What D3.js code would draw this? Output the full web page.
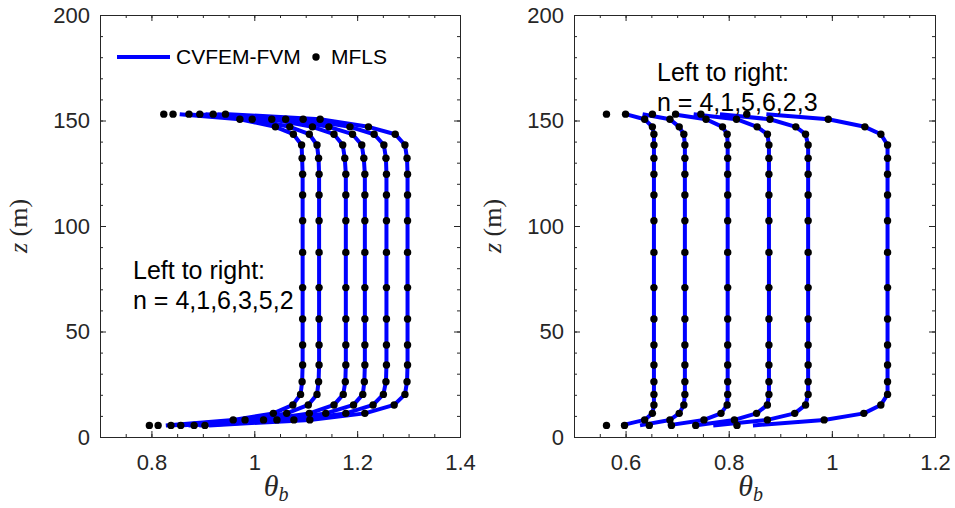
<!DOCTYPE html>
<html>
<head>
<meta charset="utf-8">
<script src="https://cdn.jsdelivr.net/npm/d3@7"></script>
<style>
	body { margin: 0; background: #fff; }
	svg { display: block; }
	.axis path, .axis line { stroke: #262626; stroke-width: 1; }
	.axis text { fill: #262626; font-size: 22px; font-family: "Liberation Sans", Arial, sans-serif; }
	.note { fill: #000; font-size: 21px; font-family: "Liberation Sans", Arial, sans-serif; }
	.label { fill: #262626; font-family: "Liberation Serif", "Times New Roman", serif; }
</style>
</head>
<body>
<svg id="chart" width="955" height="508"></svg>
<script>
// heights of the MFLS points (m), bottom to top
var zLevels = [5.5, 8.1, 11.2, 15.2, 20.2, 26.2, 34.1, 43.6, 55.9, 70.8, 87.5, 102.5, 114.7, 124.5, 132.1, 138.4, 143.5, 147.0, 150.6, 153.0];

// left panel, theta_b at zLevels, left to right n = 4,1,6,3,5,2
var leftN4 = [0.796, 0.959, 1.037, 1.075, 1.090, 1.093, 1.094, 1.094, 1.094, 1.094, 1.094, 1.094, 1.094, 1.094, 1.093, 1.092, 1.076, 1.041, 0.972, 0.824];
var leftN1 = [0.813, 0.982, 1.063, 1.105, 1.122, 1.125, 1.126, 1.126, 1.126, 1.126, 1.126, 1.126, 1.126, 1.126, 1.125, 1.122, 1.107, 1.069, 0.996, 0.842];
var leftN6 = [0.838, 1.018, 1.107, 1.155, 1.173, 1.177, 1.178, 1.178, 1.178, 1.178, 1.178, 1.178, 1.178, 1.178, 1.176, 1.172, 1.155, 1.113, 1.034, 0.873];
var leftN3 = [0.857, 1.044, 1.139, 1.193, 1.211, 1.214, 1.215, 1.215, 1.215, 1.215, 1.215, 1.215, 1.215, 1.215, 1.213, 1.209, 1.191, 1.145, 1.061, 0.894];
var leftN5 = [0.883, 1.077, 1.178, 1.231, 1.251, 1.256, 1.257, 1.257, 1.257, 1.257, 1.257, 1.257, 1.257, 1.257, 1.256, 1.252, 1.233, 1.186, 1.095, 0.920];
var leftN2 = [0.904, 1.108, 1.215, 1.272, 1.293, 1.297, 1.298, 1.298, 1.298, 1.298, 1.298, 1.298, 1.298, 1.298, 1.297, 1.293, 1.274, 1.222, 1.128, 0.944];
// CVFEM-FVM end values (bottom / top) for the same curves
var leftLineBottom = [0.828, 0.838, 0.855, 0.872, 0.893, 0.912];
var leftLineTop    = [0.855, 0.868, 0.888, 0.905, 0.928, 0.950];

// right panel, left to right n = 4,1,5,6,2,3
var rightN4 = [0.563, 0.637, 0.652, 0.655, 0.655, 0.655, 0.655, 0.655, 0.655, 0.655, 0.655, 0.655, 0.655, 0.655, 0.655, 0.655, 0.655, 0.652, 0.637, 0.563];
var rightN1 = [0.598, 0.686, 0.704, 0.713, 0.715, 0.715, 0.715, 0.715, 0.715, 0.715, 0.715, 0.715, 0.715, 0.715, 0.715, 0.715, 0.713, 0.704, 0.686, 0.600];
var rightN5 = [0.646, 0.752, 0.785, 0.797, 0.798, 0.798, 0.798, 0.798, 0.798, 0.798, 0.798, 0.798, 0.798, 0.798, 0.798, 0.798, 0.797, 0.788, 0.756, 0.652];
var rightN6 = [0.689, 0.811, 0.854, 0.875, 0.878, 0.878, 0.878, 0.878, 0.878, 0.878, 0.878, 0.878, 0.878, 0.878, 0.878, 0.878, 0.875, 0.855, 0.815, 0.697];
var rightN2 = [0.736, 0.875, 0.928, 0.949, 0.954, 0.954, 0.954, 0.954, 0.954, 0.954, 0.954, 0.954, 0.954, 0.954, 0.954, 0.954, 0.949, 0.930, 0.880, 0.746];
var rightN3 = [0.816, 0.985, 1.062, 1.095, 1.108, 1.108, 1.108, 1.108, 1.108, 1.108, 1.108, 1.108, 1.108, 1.108, 1.108, 1.108, 1.095, 1.064, 0.993, 0.835];
var rightLineBottom = [0.592, 0.628, 0.682, 0.734, 0.770, 0.847];
var rightLineTop    = [0.600, 0.633, 0.692, 0.732, 0.783, 0.873];

var zTicks = [0, 50, 100, 150, 200];
var leftTicks = [0.8, 1, 1.2, 1.4];
var rightTicks = [0.6, 0.8, 1, 1.2];

var svg = d3.select("#chart");
var plotTop = 15, plotBottom = 437;
var blue = "#0000ff";

function minorTicks(lo, hi, step) {
	var out = [];
	for (var v = lo; v <= hi + 1e-9; v += step) out.push(+v.toFixed(3));
	return out;
}

function drawPanel(p) {
	var x = d3.scaleLinear().domain(p.domain).range([p.x0, p.x1]);
	var y = d3.scaleLinear().domain([0, 200]).range([plotBottom, plotTop]);
	var g = svg.append("g");
	var fmt = d3.format("~g");

	// minor ticks, inward
	var xMinor = minorTicks(p.domain[0], p.domain[1], 0.05);
	var yMinor = minorTicks(0, 200, 10);
	g.append("g").attr("class", "axis").attr("transform", "translate(0," + plotBottom + ")")
		.call(d3.axisBottom(x).tickValues(xMinor).tickSize(-3).tickFormat(""));
	g.append("g").attr("class", "axis").attr("transform", "translate(0," + plotTop + ")")
		.call(d3.axisTop(x).tickValues(xMinor).tickSize(-3).tickFormat(""));
	g.append("g").attr("class", "axis").attr("transform", "translate(" + p.x0 + ",0)")
		.call(d3.axisLeft(y).tickValues(yMinor).tickSize(-3).tickFormat(""));
	g.append("g").attr("class", "axis").attr("transform", "translate(" + p.x1 + ",0)")
		.call(d3.axisRight(y).tickValues(yMinor).tickSize(-3).tickFormat(""));

	// major ticks and labels
	g.append("g").attr("class", "axis").attr("transform", "translate(0," + plotBottom + ")")
		.call(d3.axisBottom(x).tickValues(p.ticks).tickSizeInner(-6).tickSizeOuter(0).tickPadding(17).tickFormat(fmt));
	g.append("g").attr("class", "axis").attr("transform", "translate(0," + plotTop + ")")
		.call(d3.axisTop(x).tickValues(p.ticks).tickSizeInner(-6).tickSizeOuter(0).tickFormat(""));
	g.append("g").attr("class", "axis").attr("transform", "translate(" + p.x0 + ",0)")
		.call(d3.axisLeft(y).tickValues(zTicks).tickSizeInner(-6).tickSizeOuter(0).tickPadding(10));
	g.append("g").attr("class", "axis").attr("transform", "translate(" + p.x1 + ",0)")
		.call(d3.axisRight(y).tickValues(zTicks).tickSizeInner(-6).tickSizeOuter(0).tickFormat(""));
	g.selectAll(".axis .domain").attr("fill", "none");

	var line = d3.line()
		.x(function(d) { return x(d[0]); })
		.y(function(d) { return y(d[1]); });

	p.curves.forEach(function(c, i) {
		var pts = c.map(function(v, k) { return [v, zLevels[k]]; });
		var linePts = pts.slice();
		linePts[0] = [p.lineBottom[i], zLevels[0]];
		linePts[linePts.length - 1] = [p.lineTop[i], zLevels[zLevels.length - 1]];
		g.append("path").datum(linePts)
			.attr("d", line)
			.attr("fill", "none")
			.attr("stroke", blue)
			.attr("stroke-width", 4)
			.attr("stroke-linejoin", "round");
	});
	p.curves.forEach(function(c) {
		g.selectAll(null).data(c).enter().append("circle")
			.attr("cx", function(d) { return x(d); })
			.attr("cy", function(d, k) { return y(zLevels[k]); })
			.attr("r", 3.7)
			.attr("fill", "#000");
	});

	// axis labels
	var xl = g.append("text").attr("class", "label")
		.attr("x", (p.x0 + p.x1) / 2 - 4).attr("y", 496)
		.attr("text-anchor", "middle");
	xl.append("tspan").attr("font-style", "italic").attr("font-size", 30).text("\u03b8");
	xl.append("tspan").attr("font-style", "italic").attr("font-size", 20).attr("dy", 5).text("b");

	var yl = g.append("text").attr("class", "label")
		.attr("transform", "translate(" + (p.x0 - 73) + ",226) rotate(-90)")
		.attr("text-anchor", "middle")
		.attr("font-size", 26);
	yl.append("tspan").attr("font-style", "italic").text("z");
	yl.append("tspan").text(" (m)");

	// annotation
	var nt = g.append("text").attr("class", "note").style("font-size", "25px");
	nt.append("tspan").attr("x", p.noteX).attr("y", p.noteY).text("Left to right:");
	nt.append("tspan").attr("x", p.noteX).attr("y", p.noteY + 30).text(p.noteText);

	return {x: x, y: y};
}

drawPanel({
	x0: 100, x1: 460, domain: [0.7, 1.4], ticks: leftTicks,
	curves: [leftN4, leftN1, leftN6, leftN3, leftN5, leftN2],
	lineBottom: leftLineBottom, lineTop: leftLineTop,
	noteX: 133, noteY: 279, noteText: "n = 4,1,6,3,5,2"
});

drawPanel({
	x0: 574, x1: 935, domain: [0.5, 1.2], ticks: rightTicks,
	curves: [rightN4, rightN1, rightN5, rightN6, rightN2, rightN3],
	lineBottom: rightLineBottom, lineTop: rightLineTop,
	noteX: 657, noteY: 81, noteText: "n = 4,1,5,6,2,3"
});

// legend (left panel)
var lg = svg.append("g");
lg.append("line").attr("x1", 117).attr("x2", 170).attr("y1", 57).attr("y2", 57)
	.attr("stroke", blue).attr("stroke-width", 4);
lg.append("text").attr("class", "note").attr("x", 176).attr("y", 64).text("CVFEM-FVM");
lg.append("circle").attr("cx", 316).attr("cy", 57).attr("r", 3.7).attr("fill", "#000");
lg.append("text").attr("class", "note").attr("x", 331).attr("y", 64).text("MFLS");
</script>
</body>
</html>
